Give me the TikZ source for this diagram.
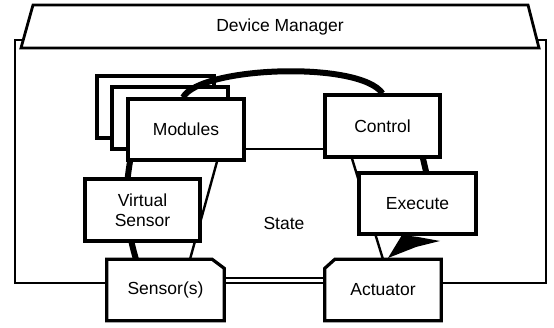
\documentclass[tikz,border=0pt]{standalone}
\usepackage{fontspec}
\setmainfont{Liberation Sans}
\pgfdeclarelayer{bg}
\pgfdeclarelayer{conn}
\pgfsetlayers{bg,conn,main}
\tikzset{
  box/.style={draw, line width=3.2pt, fill=white, inner sep=0pt, align=center},
  cbox/.style={fill=white, inner sep=0pt, align=center},
  border/.style={line width=3.2pt},
  frame/.style={line width=2.8pt, fill=white},
  thinline/.style={line width=2.4pt},
  thickline/.style={line width=6pt},
  dline/.style={line width=2pt},
}
\begin{document}
\begin{tikzpicture}[x=1pt,y=-1pt,font=\fontsize{17.5}{20}\selectfont]
\useasboundingbox (0,0) rectangle (554,328);
\begin{pgfonlayer}{bg}
  \fill[white] (0,0) rectangle (554,328);
  \draw[frame] (15,40) rectangle (546,283);
  \draw[frame] (33,5) -- (528,5) -- (539,48) -- (21,48) -- cycle;
  \node[box, minimum width=117pt, minimum height=62pt] (modb) at (155.5,107) {};
  \node[box, minimum width=116pt, minimum height=62pt] (modm) at (170,118) {};
\end{pgfonlayer}
\node (dm) at (280,27) {Device Manager};
\node[box, minimum width=116pt, minimum height=61pt] (mod) at (186,129.5) {Modules};
\node[box, minimum width=115pt, minimum height=62pt] (ctl) at (382.5,126) {Control};
\node[box, minimum width=117pt, minimum height=61pt] (exe) at (417.5,203.5) {Execute};
\node[box, minimum width=115pt, minimum height=62pt] (vs) at (142.5,210) {Virtual\\Sensor};
\node[cbox, minimum width=117pt, minimum height=61pt] (sen) at (165.5,290) {Sensor(s)};
\node[cbox, minimum width=116pt, minimum height=61pt] (act) at (383,290) {Actuator};
\draw[border] (sen.south west) -- (sen.north west) -- ([xshift=-12pt]sen.north east) -- ([yshift=-9pt]sen.north east) -- (sen.south east) -- cycle;
\draw[border] (act.south west) -- ([yshift=-9pt]act.north west) -- ([xshift=10pt]act.north west) -- (act.north east) -- (act.south east) -- cycle;
\node (st) at (284,223) {State};
\begin{pgfonlayer}{conn}
  \coordinate (h1) at ([yshift=-19.5pt]mod.east);
  \draw[thinline] (h1) -- (h1 -| ctl.west);
  \draw[thickline] ([xshift=-3pt]mod.north) .. controls +(17,-31) and +(-23,-33) .. (ctl.north);
  \draw[thickline] ([xshift=-56pt]mod.south) .. controls +(-6,35) and +(-10,-34) .. ([xshift=-29.5pt]sen.north);
  \draw[thinline] ([xshift=31pt]mod.south) -- ([xshift=24.5pt]sen.north);
  \draw[thickline] ([xshift=40.5pt]ctl.south) -- ([xshift=8.5pt]exe.north);
  \draw[thinline] ([xshift=-30.5pt]ctl.south) -- (act.north);
  \fill (388,258) -- (402,235) -- (418,237) -- (440,241) -- (416,247) -- cycle;
  \coordinate (h2) at ([yshift=12pt]sen.east);
  \draw[dline] (h2) -- (h2 -| act.west);
\end{pgfonlayer}
\end{tikzpicture}
\end{document}
